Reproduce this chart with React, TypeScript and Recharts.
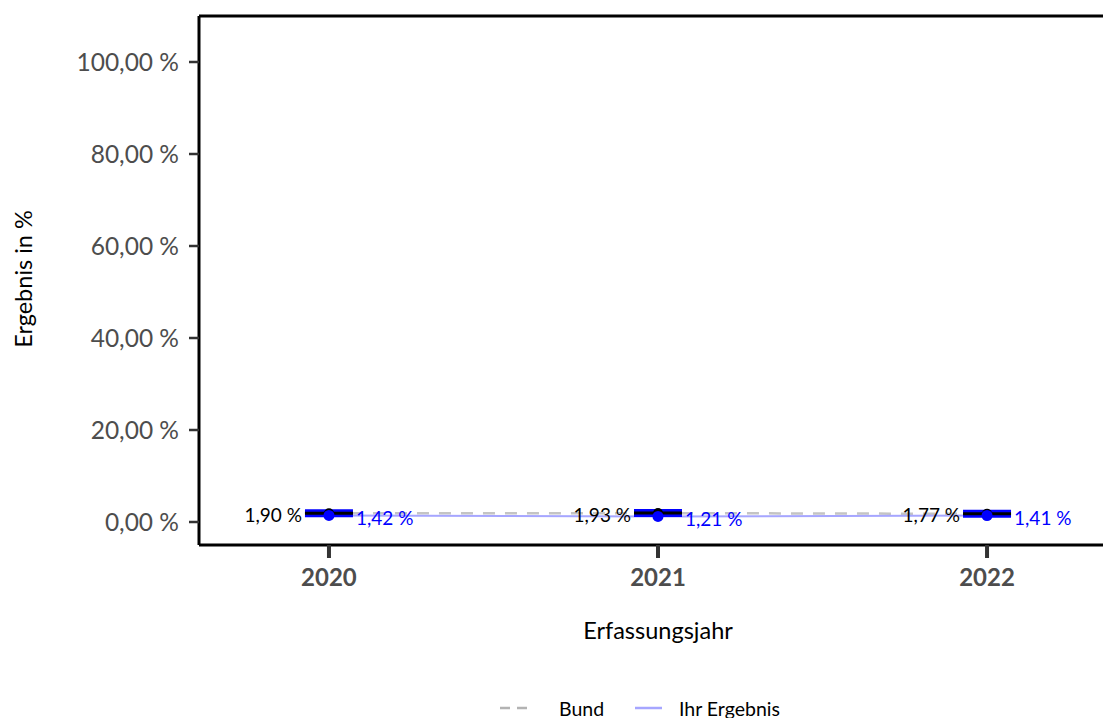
import { ComposedChart, Line, XAxis, YAxis, Scatter, ReferenceLine } from "recharts"

document.body.style.margin = "0"

const years = [2020, 2021, 2022]
const bund = [1.9, 1.93, 1.77]
const ihrErgebnis = [1.42, 1.21, 1.41]
const yTicks = [0, 20, 40, 60, 80, 100]

const Y_MIN = -5
const Y_MAX = 110
const X_MIN = 2019.605
const X_MAX = 2022.395

const data = years.map((year, i) => ({ year, bund: bund[i], ihr: ihrErgebnis[i] }))

const fmt = (v: number) => v.toFixed(2).replace(".", ",") + " %"
const FONT = "Lato, 'Open Sans', sans-serif"

// black bar with blue frame at the Bund value, plus its label
const BundMark = (props: any) => {
  const { cx, cy, payload } = props
  return (
    <g>
      <line x1={cx - 24} x2={cx + 24} y1={cy} y2={cy} stroke="#0000ff" strokeWidth={8} />
      <line x1={cx - 24} x2={cx + 24} y1={cy} y2={cy} stroke="#000000" strokeWidth={3} />
      <circle cx={cx} cy={cy} r={5} fill="#000000" />
      <text x={cx - 27} y={cy + 1} textAnchor="end" dominantBaseline="central" fontSize={19} fontFamily={FONT} fill="#000000">
        {fmt(payload.bund)}
      </text>
    </g>
  )
}

const IhrMark = (props: any) => {
  const { cx, cy, payload } = props
  return (
    <g>
      <circle cx={cx} cy={cy} r={5.5} fill="#0000ff" />
      <text x={cx + 27} y={cy + 2} textAnchor="start" dominantBaseline="central" fontSize={19} fontFamily={FONT} fill="#0000ff">
        {fmt(payload.ihr)}
      </text>
    </g>
  )
}

export default function App() {
  return (
    <div style={{ position: "relative", width: 1103, height: 718, overflow: "hidden", background: "#ffffff" }}>
      <ComposedChart width={1117} height={718} data={data} margin={{ top: 16, right: 0, bottom: 133, left: 0 }}>
        <XAxis
          type="number"
          dataKey="year"
          domain={[X_MIN, X_MAX]}
          ticks={years}
          allowDataOverflow
          height={40}
          axisLine={{ stroke: "#000000", strokeWidth: 3 }}
          tickLine={{ stroke: "#333333", strokeWidth: 4 }}
          tickSize={13}
          tickMargin={11}
          tick={{ fill: "#4d4d4d", fontSize: 24, fontWeight: 700, fontFamily: FONT }}
        />
        <YAxis
          type="number"
          domain={[Y_MIN, Y_MAX]}
          ticks={yTicks}
          allowDataOverflow
          width={199}
          tickFormatter={fmt}
          axisLine={{ stroke: "#000000", strokeWidth: 3 }}
          tickLine={{ stroke: "#333333", strokeWidth: 2.5 }}
          tickSize={10}
          tickMargin={10}
          tick={{ fill: "#4d4d4d", fontSize: 24.5, fontFamily: FONT }}
        />
        <ReferenceLine y={Y_MAX} stroke="#000000" strokeWidth={3} />
        <Line
          type="linear"
          dataKey="bund"
          stroke="#c4c4c4"
          strokeWidth={2.5}
          strokeDasharray="12 10"
          dot={false}
          activeDot={false}
          isAnimationActive={false}
        />
        <Line
          type="linear"
          dataKey="ihr"
          stroke="#a6a6ff"
          strokeWidth={2}
          dot={false}
          activeDot={false}
          isAnimationActive={false}
        />
        <Scatter dataKey="bund" shape={BundMark} isAnimationActive={false} />
        <Scatter dataKey="ihr" shape={IhrMark} isAnimationActive={false} />
      </ComposedChart>
      <svg width={1103} height={718} style={{ position: "absolute", left: 0, top: 0, pointerEvents: "none" }}>
        <text x={23} y={279} transform="rotate(-90 23 279)" textAnchor="middle" dominantBaseline="central" fontSize={23.5} fontFamily={FONT} fill="#000000">
          Ergebnis in %
        </text>
        <text x={658} y={630} textAnchor="middle" dominantBaseline="central" fontSize={23.5} fontFamily={FONT} fill="#000000">
          Erfassungsjahr
        </text>
        <line x1={500} x2={527} y1={708} y2={708} stroke="#b3b3b3" strokeWidth={2.5} strokeDasharray="10 7" />
        <text x={559} y={708} dominantBaseline="central" fontSize={19.5} fontFamily={FONT} fill="#000000">
          Bund
        </text>
        <line x1={635} x2={662} y1={708} y2={708} stroke="#a6a6ff" strokeWidth={2.5} />
        <text x={679} y={708} dominantBaseline="central" fontSize={19.5} fontFamily={FONT} fill="#000000">
          Ihr Ergebnis
        </text>
      </svg>
    </div>
  )
}
